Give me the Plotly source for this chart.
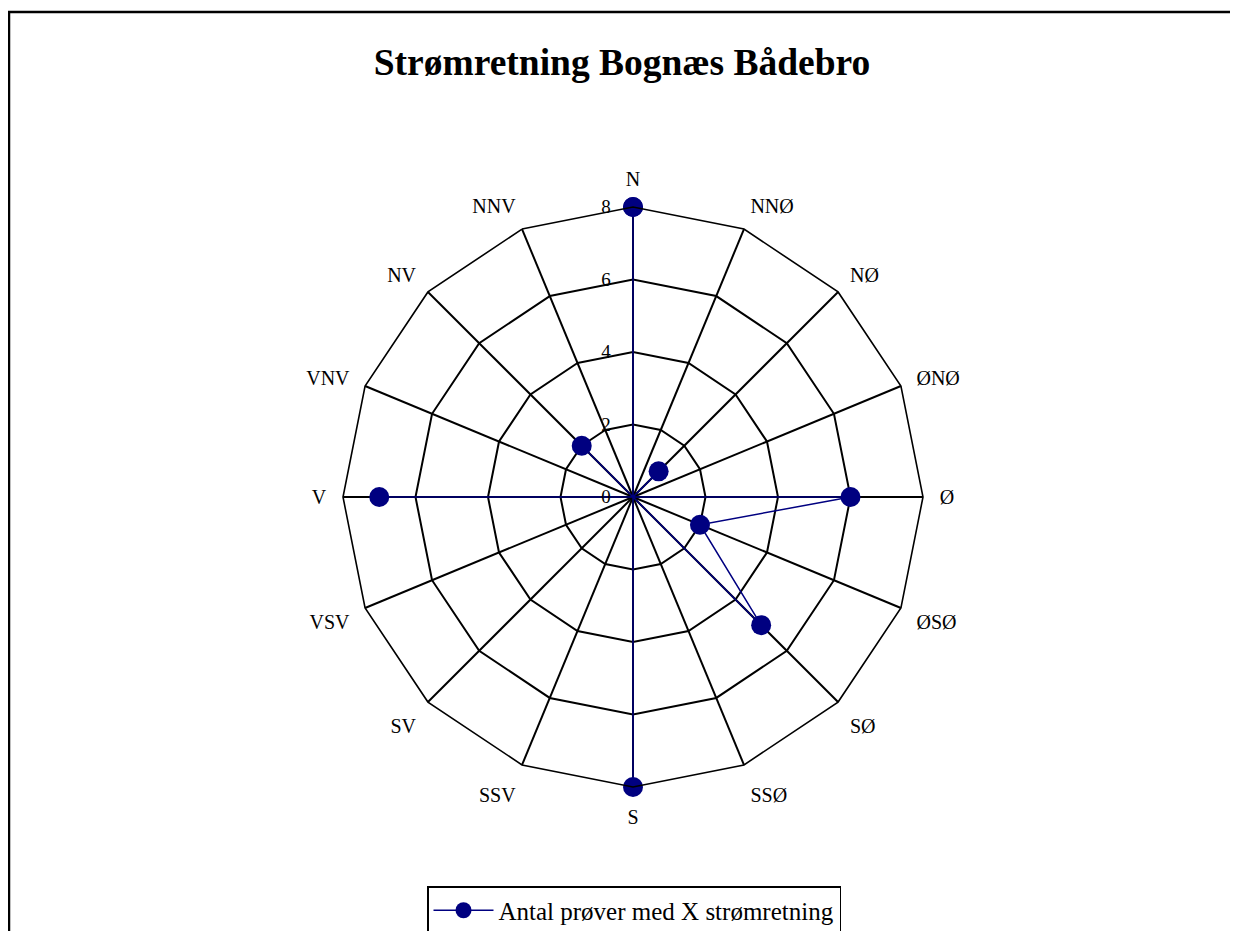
import plotly.graph_objects as go

directions = ["N", "NNØ", "NØ", "ØNØ", "Ø", "ØSØ", "SØ", "SSØ",
              "S", "SSV", "SV", "VSV", "V", "VNV", "NV", "NNV"]
counts = [8, 0, 1, 0, 6, 2, 5, 0, 8, 0, 0, 0, 7, 0, 2, 0]
radial_ticks = [0, 2, 4, 6, 8]
title_text = "Strømretning Bognæs Bådebro"
series_name = "Antal prøver med X strømretning"

W, H = 1238, 931
OFF = 8  # page body margin


def px(x):
    return (x - OFF) / W


def py(y):
    return 1 - (y - OFF) / H


cx, cy, R = 633, 497, 290

fig = go.Figure()
fig.add_trace(go.Scatterpolar(
    r=counts + counts[:1],
    theta=directions + directions[:1],
    mode="lines+markers",
    name=series_name,
    line=dict(color="#000080", width=1.5),
    marker=dict(color="#000080", size=20, symbol="circle"),
    cliponaxis=False,
))

serif = "Liberation Serif, Times New Roman, serif"

fig.update_layout(
    width=W, height=H,
    margin=dict(l=0, r=0, t=0, b=0),
    paper_bgcolor="white",
    plot_bgcolor="white",
    showlegend=True,
    title=dict(text="<b>" + title_text + "</b>", x=px(622), xanchor="center",
               y=py(62), yanchor="middle",
               font=dict(family=serif, size=37.5, color="black")),
    polar=dict(
        domain=dict(x=[px(cx - R), px(cx + R)],
                    y=[py(cy + R), py(cy - R)]),
        bgcolor="white",
        gridshape="linear",
        angularaxis=dict(
            rotation=90, direction="clockwise",
            categoryorder="array", categoryarray=directions,
            showline=True, linecolor="black", linewidth=1.6,
            gridcolor="black", gridwidth=1.6,
            ticks="outside", ticklen=12, tickcolor="rgba(0,0,0,0)",
            tickfont=dict(family=serif, size=20, color="black"),
        ),
        radialaxis=dict(
            range=[0, 8], tickvals=radial_ticks,
            angle=90, tickangle=90, side="counterclockwise",
            showline=False,
            gridcolor="black", gridwidth=1.6,
            ticks="outside", ticklen=15, tickcolor="rgba(0,0,0,0)",
            tickfont=dict(family=serif, size=19, color="black"),
        ),
    ),
    legend=dict(
        x=px(634), xanchor="center", y=py(886), yanchor="top",
        orientation="h", itemwidth=60,
        bordercolor="black", borderwidth=1.5, bgcolor="white",
        font=dict(family=serif, size=25, color="black"),
    ),
    shapes=[dict(type="rect", xref="paper", yref="paper",
                 x0=px(9), x1=1.02, y0=-0.02, y1=py(12),
                 line=dict(color="black", width=2.5))],
)

fig.write_html("out.html")
